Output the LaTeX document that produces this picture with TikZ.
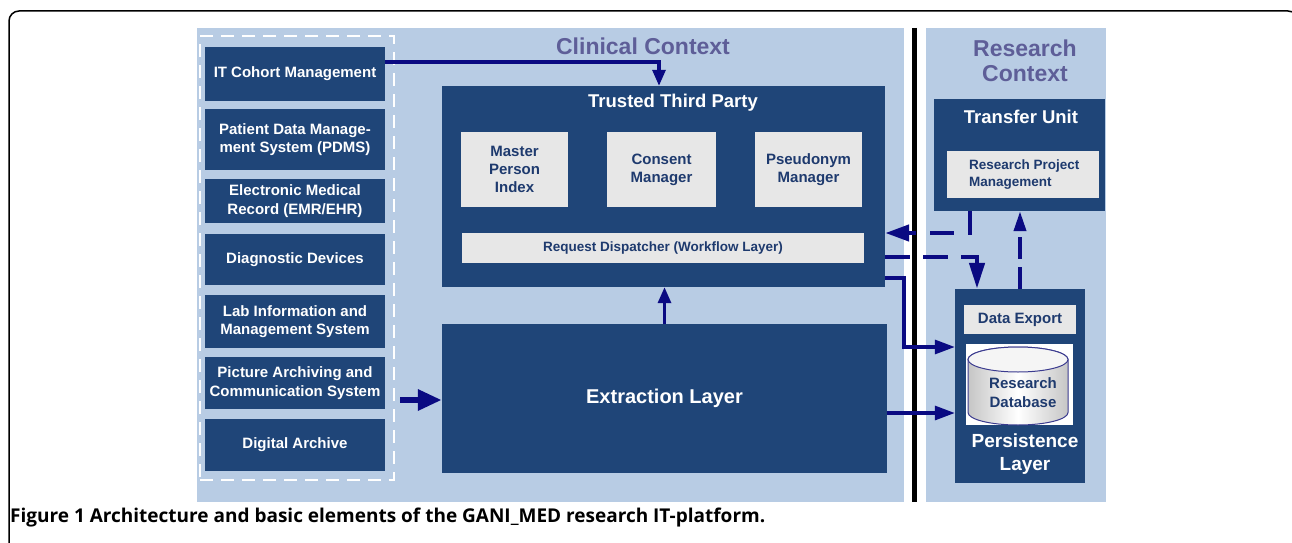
\documentclass[tikz,border=0pt]{standalone}
\usepackage{fontspec}
\setmainfont{Liberation Sans}
\newfontfamily\capfont{Open Sans}
\usetikzlibrary{arrows.meta}
\definecolor{darkbox}{HTML}{1F4578}
\definecolor{lightbg}{HTML}{B8CCE4}
\definecolor{graybox}{HTML}{E7E7E7}
\definecolor{navytext}{HTML}{1E3A6E}
\definecolor{arrowc}{HTML}{0A0A82}
\definecolor{ctxtext}{HTML}{5E5E98}
\definecolor{cylline}{HTML}{3B3B8F}
\begin{document}
\begin{tikzpicture}[x=1pt,y=-1pt,
  bgbox/.style={fill=lightbg, draw=none, inner sep=0pt},
  dbox/.style={fill=darkbox, draw=none, inner sep=0pt, text=white, align=center,
    font=\bfseries\fontsize{15pt}{18.5pt}\selectfont},
  gbox/.style={fill=graybox, draw=none, inner sep=0pt, text=navytext, align=center,
    font=\bfseries\fontsize{15pt}{18pt}\selectfont},
  wtitle/.style={text=white, inner sep=0pt, align=center, font=\bfseries\fontsize{18.5pt}{22pt}\selectfont},
  ctxtitle/.style={text=ctxtext, inner sep=0pt, align=center, font=\bfseries\fontsize{23pt}{25pt}\selectfont},
  thinarrow/.style={draw=arrowc, line width=3.2pt, -{Triangle[length=16pt,width=13pt]}},
  midarrow/.style={draw=arrowc, line width=3.2pt, -{Triangle[length=20pt,width=14pt]}},
  bigarrow/.style={draw=arrowc, line width=6pt, -{Triangle[length=24pt,width=20pt]}},
  dasharrow/.style={draw=arrowc, line width=4.5pt, dash pattern=on 24pt off 14pt, -{Triangle[length=24pt,width=16pt]}},
  vdasharrow/.style={draw=arrowc, line width=3.8pt, dash pattern=on 22pt off 8pt, -{Triangle[length=20pt,width=12pt]}}
]
\useasboundingbox (0,0) rectangle (1292,543);
\clip (0,0) rectangle (1292,543);
\fill[white] (0,0) rectangle (1292,543);
% outer frame
\draw[black, line width=1.5pt, rounded corners=10pt] (9,560) -- (9,11) -- (1298,11) -- (1298,560);

% backgrounds
\node[bgbox, minimum width=707pt, minimum height=474pt] (clin) at (550.5,265) {};
\node[bgbox, minimum width=180pt, minimum height=474pt] (res) at (1016,265) {};
\draw[black, line width=5pt] (clin.north east) ++(10,0) coordinate (sepTop) -- (sepTop |- clin.south);

\node[ctxtitle] (clint) at (643,46) {Clinical Context};
\node[ctxtitle] (rest) at (1025,61) {Research\\Context};

% source systems group
\node[draw=white, line width=2.5pt, dash pattern=on 13pt off 8pt, minimum width=194pt, minimum height=444pt, inner sep=0pt] (grp) at (297,258) {};
\node[dbox, minimum width=180pt, minimum height=54pt] (itc) at (295,74) {IT Cohort Management};
\node[dbox, minimum width=180pt, minimum height=61pt] (pdms) at (295,139.5) {Patient Data Manage-\\ment System (PDMS)};
\node[dbox, minimum width=180pt, minimum height=44pt] (emr) at (295,201) {Electronic Medical\\Record (EMR/EHR)};
\node[dbox, minimum width=180pt, minimum height=51pt] (diag) at (295,259.5) {Diagnostic Devices};
\node[dbox, minimum width=180pt, minimum height=53pt] (lab) at (295,321.5) {Lab Information and\\Management System};
\node[dbox, minimum width=180pt, minimum height=52pt] (pacs) at (295,383) {Picture Archiving and\\Communication System};
\node[dbox, minimum width=180pt, minimum height=52pt] (arch) at (295,445) {Digital Archive};

% trusted third party
\node[dbox, minimum width=443pt, minimum height=201pt] (ttp) at (663.5,186.5) {};
\node[wtitle] (ttpt) at (673,103) {Trusted Third Party};
\node[gbox, minimum width=107pt, minimum height=75pt] (mpi) at (514.5,169.5) {Master\\Person\\Index};
\node[gbox, minimum width=109pt, minimum height=75pt] (cons) at (661.5,169.5) {Consent\\Manager};
\node[gbox, minimum width=107pt, minimum height=75pt] (pseu) at (808.5,169.5) {Pseudonym\\Manager};
\node[gbox, minimum width=402pt, minimum height=30pt, font=\bfseries\fontsize{13.5pt}{16pt}\selectfont] (rd) at (663,248) {Request Dispatcher (Workflow Layer)};

% extraction layer
\node[dbox, minimum width=445pt, minimum height=149pt, font=\bfseries\fontsize{20pt}{24pt}\selectfont] (ext) at (664.5,398.5) {Extraction Layer};

% transfer unit
\node[dbox, minimum width=171pt, minimum height=112pt] (tu) at (1019.5,155) {};
\node[wtitle] (tut) at (1021,117) {Transfer Unit};
\node[gbox, minimum width=152pt, minimum height=47pt] (rpm) at (1023,174.5) {};
\node[text=navytext, inner sep=0pt, anchor=west, align=left, font=\bfseries\fontsize{13.5pt}{17pt}\selectfont] (rpmt) at ([xshift=22pt]rpm.west) {Research Project\\Management};

% persistence layer
\node[dbox, minimum width=130pt, minimum height=194pt] (pers) at (1020,386) {};
\node[gbox, minimum width=112pt, minimum height=29pt] (dexp) at (1020,319.5) {Data Export};
\node[fill=white, inner sep=0pt, minimum width=107pt, minimum height=81pt] (dbw) at (1019.5,384.5) {};
\shade[left color=gray!45, right color=gray!45, middle color=white, draw=cylline, line width=1pt]
  (968,359.5) -- (968,412.5) arc[start angle=180, end angle=0, x radius=50, y radius=12.5]
  -- (1068,359.5) arc[start angle=0, end angle=-180, x radius=50, y radius=12.5] -- cycle;
\draw[cylline, line width=1pt, fill=white!92!gray] (1018,359.5) ellipse [x radius=50, y radius=12.5];
\node[text=navytext, inner sep=0pt, align=center, font=\bfseries\fontsize{15pt}{19pt}\selectfont] (db) at (1023,392.5) {Research\\Database};
\node[wtitle, font=\bfseries\fontsize{19pt}{23pt}\selectfont] (perst) at (1025,454.5) {Persistence\\Layer};

% connectors
\draw[thinarrow] ([yshift=12pt]itc.east) -| ([xshift=-4.5pt]ttp.north);
\draw[thinarrow] (ext.north) -- (ext.north |- ttp.south);
\coordinate (pa) at (400,400);
\draw[bigarrow] (pa) -- (pa -| ext.west);
\draw[dasharrow] ([xshift=-49.5pt]tu.south) |- ([yshift=-46.5pt]ttp.east);
\draw[dasharrow, dash pattern=on 25pt off 13pt, -{Triangle[length=26pt,width=15pt]}] ([yshift=-70.5pt]ttp.east) -| ([xshift=-43pt]pers.north);
\draw[vdasharrow] (pers.north) -- (pers.north |- tu.south);
\coordinate (bend) at (904,347);
\draw[midarrow] ([yshift=-91.5pt]ttp.east) -| (bend) -- (bend -| pers.west);
\draw[midarrow] ([yshift=-14.5pt]ext.east) -- ([yshift=-14.5pt]ext.east -| pers.west);

% caption
\node[anchor=west, inner sep=0pt, font=\capfont\bfseries\fontsize{19pt}{22pt}\selectfont] (cap) at (10,518) {Figure 1 Architecture and basic elements of the GANI\_MED research IT-platform.};
\end{tikzpicture}
\end{document}
